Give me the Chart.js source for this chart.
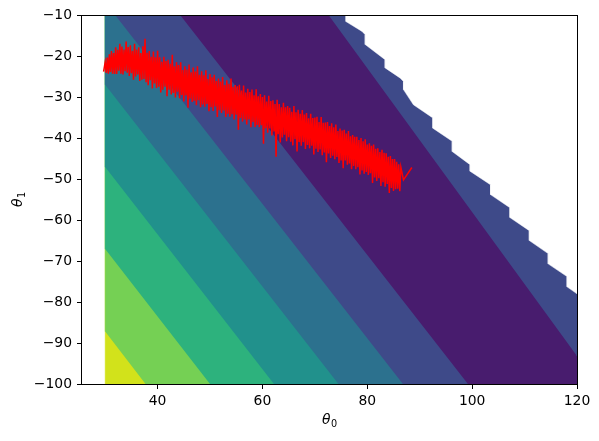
<!DOCTYPE html>
<html><head><meta charset="utf-8">
<script src="https://cdn.jsdelivr.net/npm/chart.js@4/dist/chart.umd.min.js"></script>
<style>html,body{margin:0;padding:0;background:#fff;}#wrap{width:599px;height:441px;}</style>
</head><body><div id="wrap"><canvas id="c" width="599" height="441"></canvas></div>
<script>
// ---- axes ----
const xTicks = [40, 60, 80, 100, 120];
const yTicks = [-100, -90, -80, -70, -60, -50, -40, -30, -20, -10];
const xRange = [25.58, 120];
const yRange = [-100, -10];
// ---- contour grid extent ----
const gridX = [30, 120];
const gridY = [-100, -10];
// ---- contour band colours (viridis), lowest painted first ----
const bandColors = ['#d2e21b', '#75d054', '#2db27d', '#21918c', '#2c718e', '#3e4a89', '#481c6e', '#3e4a89'];
// ---- contour boundaries (start on left/top edge, end on bottom/right edge) ----
const edgeStartX = [30, 30, 30, 30, 31.9, 44.3, 72.6];
const edgeStartY = [-87.2, -67.1, -47.1, -27.0, -10, -10, -10];
const edgeEndX = [37.7, 50.0, 62.2, 74.5, 86.8, 99.2, 120];
const edgeEndY = [-100, -100, -100, -100, -100, -100, -93.2];
// ---- masked (undefined) region, upper right ----
const maskX = [75.93, 75.93, 79.0, 79.6, 79.6, 83.4, 83.4, 86.3, 86.9, 86.9, 88.8, 92.5, 92.5, 96.2, 96.2, 99.6, 99.6, 103.5, 103.5, 107.2, 107.2, 110.9, 110.9, 114.5, 114.5, 118.1, 118.1, 120, 120];
const maskY = [-10, -11.6, -14.0, -14.8, -17.2, -20.9, -22.9, -25.4, -26.2, -28.2, -31.9, -35.1, -37.6, -40.8, -43.3, -46.5, -48.1, -51.4, -53.8, -57.0, -59.4, -62.6, -65.0, -68.2, -70.7, -73.8, -76.3, -78.0, -10];
// ---- descent path (theta0, theta1) ----
const pathX = [29.7,
30.0,30.2,30.4,30.6,30.8,31.0,31.2,31.4,31.6,31.8,
32.0,32.2,32.4,32.6,32.8,33.0,33.2,33.4,33.6,33.8,
34.0,34.2,34.4,34.6,34.8,35.0,35.2,35.4,35.6,35.8,
36.0,36.2,36.4,36.6,36.8,37.0,37.2,37.4,37.6,37.8,
38.0,38.2,38.4,38.6,38.8,39.0,39.2,39.4,39.6,39.8,
40.0,40.2,40.4,40.6,40.8,41.0,41.2,41.4,41.6,41.8,
42.0,42.2,42.4,42.6,42.8,43.0,43.2,43.4,43.6,43.8,
44.0,44.2,44.4,44.6,44.8,45.0,45.2,45.4,45.6,45.8,
46.0,46.2,46.4,46.6,46.8,47.0,47.2,47.4,47.6,47.8,
48.0,48.2,48.4,48.6,48.8,49.0,49.2,49.4,49.6,49.8,
50.0,50.2,50.4,50.6,50.8,51.0,51.2,51.4,51.6,51.8,
52.0,52.2,52.4,52.6,52.8,53.0,53.2,53.4,53.6,53.8,
54.0,54.2,54.4,54.6,54.8,55.0,55.2,55.4,55.6,55.8,
56.0,56.2,56.4,56.6,56.8,57.0,57.2,57.4,57.6,57.8,
58.0,58.2,58.4,58.6,58.8,59.0,59.2,59.4,59.6,59.8,
60.0,60.2,60.4,60.6,60.8,61.0,61.2,61.4,61.6,61.8,
62.0,62.2,62.4,62.6,62.8,63.0,63.2,63.4,63.6,63.8,
64.0,64.2,64.4,64.6,64.8,65.0,65.2,65.4,65.6,65.8,
66.0,66.2,66.4,66.6,66.8,67.0,67.2,67.4,67.6,67.8,
68.0,68.2,68.4,68.6,68.8,69.0,69.2,69.4,69.6,69.8,
70.0,70.2,70.4,70.6,70.8,71.0,71.2,71.4,71.6,71.8,
72.0,72.2,72.4,72.6,72.8,73.0,73.2,73.4,73.6,73.8,
74.0,74.2,74.4,74.6,74.8,75.0,75.2,75.4,75.6,75.8,
76.0,76.2,76.4,76.6,76.8,77.0,77.2,77.4,77.6,77.8,
78.0,78.2,78.4,78.6,78.8,79.0,79.2,79.4,79.6,79.8,
80.0,80.2,80.4,80.6,80.8,81.0,81.2,81.4,81.6,81.8,
82.0,82.2,82.4,82.6,82.8,83.0,83.2,83.4,83.6,83.8,
84.0,84.2,84.4,84.6,84.8,85.0,85.2,85.4,85.6,85.8,
86.0,86.2,86.4,86.9,88.5];
const pathY = [-23.8,
-21.5,-24.1,-20.4,-24.3,-19.6,-23.9,-18.8,-24.3,-19.3,-24.4,
-17.9,-24.4,-18.5,-23.6,-17.0,-24.3,-17.7,-24.5,-18.4,-23.7,
-16.5,-24.1,-17.8,-24.9,-17.4,-24.2,-18.7,-25.8,-17.0,-25.0,
-18.4,-24.5,-17.9,-26.1,-19.3,-25.8,-17.6,-25.6,-15.8,-26.4,
-19.2,-27.1,-18.8,-25.9,-20.2,-27.9,-18.9,-26.7,-20.3,-27.8,
-18.7,-27.5,-20.3,-28.9,-21.4,-28.2,-20.2,-27.5,-21.2,-29.8,
-20.9,-28.2,-21.9,-29.4,-19.7,-29.0,-22.5,-30.1,-21.5,-28.7,
-22.2,-30.3,-21.5,-29.5,-23.4,-31.1,-22.5,-29.6,-23.3,-32.6,
-22.1,-30.4,-24.0,-31.2,-22.8,-30.9,-23.8,-32.0,-22.5,-30.8,
-24.6,-32.5,-23.7,-31.8,-24.7,-32.4,-23.5,-31.7,-25.6,-33.5,
-24.4,-32.5,-25.2,-33.4,-24.6,-32.3,-26.1,-34.9,-25.5,-33.2,
-26.2,-33.9,-25.1,-33.3,-27.1,-34.9,-25.9,-34.1,-26.8,-34.8,
-25.5,-34.2,-27.5,-35.5,-27.1,-34.3,-27.4,-38.0,-27.0,-35.1,
-28.4,-36.0,-27.2,-35.5,-28.9,-36.7,-28.0,-35.5,-28.8,-37.4,
-28.2,-36.1,-29.6,-37.3,-28.1,-36.8,-29.8,-37.4,-29.3,-36.9,
-30.0,-41.4,-29.6,-37.6,-31.1,-38.7,-29.7,-37.7,-31.0,-39.4,
-30.8,-38.4,-31.7,-44.6,-30.7,-39.1,-31.7,-41.1,-32.5,-39.9,
-31.4,-39.2,-32.5,-40.8,-32.2,-39.8,-32.6,-40.9,-33.6,-41.8,
-32.2,-40.3,-33.7,-43.3,-33.1,-41.0,-34.1,-41.9,-33.2,-41.0,
-34.3,-42.7,-33.9,-41.7,-35.2,-42.5,-34.1,-41.9,-35.1,-44.0,
-35.0,-42.6,-34.8,-43.4,-36.1,-42.8,-34.9,-44.2,-36.3,-43.5,
-36.2,-45.9,-36.1,-43.8,-37.1,-44.9,-36.4,-44.3,-37.4,-45.2,
-36.7,-44.6,-38.3,-46.1,-37.7,-45.5,-38.2,-47.4,-38.0,-45.5,
-38.9,-46.5,-38.3,-46.2,-39.6,-47.6,-39.3,-46.8,-39.7,-47.6,
-39.7,-47.1,-40.5,-48.9,-40.0,-47.9,-40.8,-48.7,-40.3,-48.3,
-41.6,-49.0,-41.3,-48.6,-41.9,-51.0,-41.6,-49.6,-42.6,-50.5,
-42.5,-49.8,-43.4,-51.7,-42.9,-50.8,-43.6,-51.9,-43.7,-51.2,
-44.6,-53.4,-44.4,-52.2,-45.1,-52.9,-45.1,-52.5,-45.8,-52.4,
-46.4,-53.0,-47.1,-50.2,-47.2];

const pts = (xs, ys) => xs.map((x, i) => ({x, y: ys[i]}));

function regionAbove(k) {
  const p = [{x: edgeStartX[k], y: edgeStartY[k]}];
  if (edgeStartX[k] === gridX[0]) p.push({x: gridX[0], y: gridY[1]});
  p.push({x: gridX[1], y: gridY[1]});
  if (edgeEndY[k] === gridY[0]) p.push({x: gridX[1], y: gridY[0]});
  p.push({x: edgeEndX[k], y: edgeEndY[k]});
  return p;
}

const polyStyle = (color, order) => ({
  type: 'line', fill: 'shape', backgroundColor: color, borderColor: color,
  borderWidth: 0.5, pointRadius: 0, tension: 0, order
});

const datasets = [];
datasets.push(Object.assign({data: pts([gridX[0], gridX[0], gridX[1], gridX[1]], [gridY[0], gridY[1], gridY[1], gridY[0]])}, polyStyle(bandColors[0], 100)));
for (let k = 0; k < edgeStartX.length; k++) {
  datasets.push(Object.assign({data: regionAbove(k)}, polyStyle(bandColors[k + 1], 90 - k)));
}
datasets.push(Object.assign({data: pts(maskX, maskY)}, polyStyle('#ffffff', 5)));
datasets.push({type: 'line', data: pts(pathX, pathY), borderColor: '#ff0000', borderWidth: 1.5,
  pointRadius: 0, fill: false, tension: 0, order: 0});

const tickFont = {family: 'DejaVu Sans', size: 13.9};

const framePlugin = {
  id: 'frame',
  afterDraw(chart) {
    const {ctx, chartArea: a} = chart;
    ctx.save();
    ctx.strokeStyle = '#000';
    ctx.lineWidth = 1;
    ctx.strokeRect(a.left - 0.5, a.top + 0.5, a.right - a.left + 1, a.bottom - a.top);
    function drawTheta(sub, cx, cy, rot) {
      ctx.save();
      ctx.translate(cx, cy);
      ctx.rotate(rot);
      ctx.fillStyle = '#000';
      ctx.textBaseline = 'alphabetic';
      ctx.font = 'italic 13.9px "DejaVu Sans"';
      const w1 = ctx.measureText('\u03b8').width;
      ctx.font = '9.7px "DejaVu Sans"';
      const w2 = ctx.measureText(sub).width;
      const total = w1 + w2 + 0.5;
      ctx.font = 'italic 13.9px "DejaVu Sans"';
      ctx.fillText('\u03b8', -total / 2, 5);
      ctx.font = '9.7px "DejaVu Sans"';
      ctx.fillText(sub, -total / 2 + w1 + 0.5, 7.5);
      ctx.restore();
    }
    drawTheta('0', (a.left + a.right) / 2, 419, 0);
    drawTheta('1', 17, (a.top + a.bottom) / 2, -Math.PI / 2);
    ctx.restore();
  }
};

new Chart(document.getElementById('c'), {
  type: 'line',
  data: {datasets},
  options: {
    responsive: false, animation: false, devicePixelRatio: 1,
    events: [],
    layout: {padding: {left: 0, right: 22, top: 15, bottom: 0}},
    plugins: {legend: {display: false}, tooltip: {enabled: false}},
    scales: {
      x: {
        type: 'linear', min: xRange[0], max: xRange[1],
        afterBuildTicks: s => { s.ticks = xTicks.map(v => ({value: v})); },
        afterFit: s => { s.height = 57; },
        grid: {drawOnChartArea: false, drawTicks: true, tickLength: 5, tickColor: '#000', tickWidth: 1},
        border: {display: false},
        ticks: {font: tickFont, color: '#000', padding: 4, maxRotation: 0, autoSkip: false,
          callback: v => String(v)}
      },
      y: {
        type: 'linear', min: yRange[0], max: yRange[1],
        afterBuildTicks: s => { s.ticks = yTicks.map(v => ({value: v})); },
        afterFit: s => { s.width = 82; },
        grid: {drawOnChartArea: false, drawTicks: true, tickLength: 5, tickColor: '#000', tickWidth: 1},
        border: {display: false},
        ticks: {font: tickFont, color: '#000', padding: 5, autoSkip: false,
          callback: v => String(v).replace('-', '\u2212')}
      }
    }
  },
  plugins: [framePlugin]
});
</script></body></html>
